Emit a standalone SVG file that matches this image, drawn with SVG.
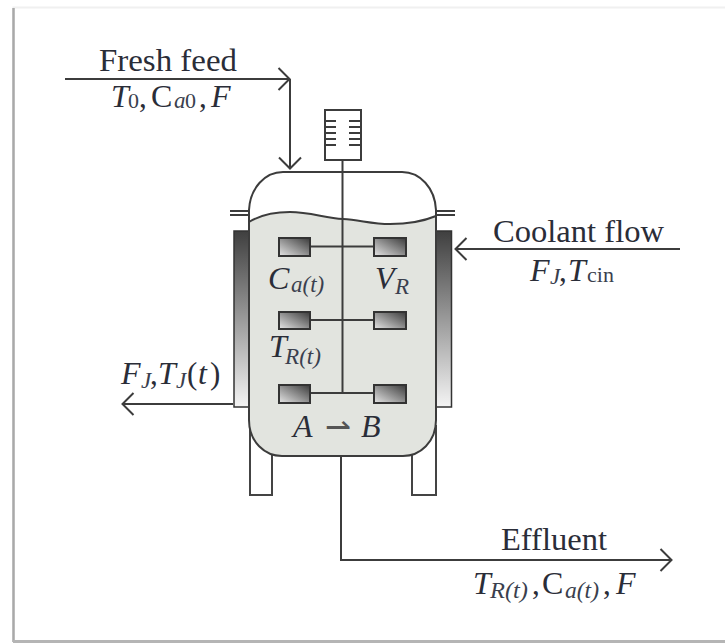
<svg xmlns="http://www.w3.org/2000/svg" width="725" height="643" viewBox="0 0 725 643">
<style>
text{font-family:"Liberation Serif","Times New Roman",serif;fill:#2a2d38}
.l{font-size:31px}
.i{font-size:32px;font-style:italic}
.c{font-size:32px}
.ci{font-size:32px;font-style:italic}
.s{font-size:23px;font-style:italic;fill:#3a3f4e}
.r{font-size:22px;fill:#3a3f4e}
.ln{fill:none;stroke:#3c3c3c;stroke-width:2}
.pad{fill:url(#pg);stroke:#333;stroke-width:2}
.head{fill:none;stroke:#3c3c3c;stroke-width:2}
</style>
<defs>
<linearGradient id="jg" x1="0" y1="0" x2="0" y2="1"><stop offset="0" stop-color="#3f3f3f"/><stop offset="1" stop-color="#f4f4f4"/></linearGradient>
<linearGradient id="pg" x1="0" y1="1" x2="1" y2="0"><stop offset="0" stop-color="#e6e6e6"/><stop offset="1" stop-color="#3a3a3a"/></linearGradient>
<marker id="a" markerUnits="userSpaceOnUse" markerWidth="16" markerHeight="26" refX="13.500" refY="13" orient="auto"><path d="M2 2L13 13L2 24" class="head"/></marker>
</defs>
<rect width="725" height="643" fill="#fff"/>
<g id="frame">
<path d="M13.500 642V7.500H725" fill="none" stroke="#f0f0f0" stroke-width="2"/>
<path d="M13.500 642V8" fill="none" stroke="#a9a9a9" stroke-width="2.500"/>
<path d="M13 641.500H725" fill="none" stroke="#b5b5b5" stroke-width="3"/>
</g>
<g id="legs">
<path d="M250 425V495H272V450" fill="#fff" stroke="#444" stroke-width="2"/>
<path d="M412 450V495H436V425" fill="#fff" stroke="#444" stroke-width="2"/>
</g>
<g id="jacket">
<rect x="234" y="231" width="16" height="176" fill="url(#jg)" stroke="#333" stroke-width="1.500"/>
<rect x="435" y="231" width="16.500" height="176" fill="url(#jg)" stroke="#333" stroke-width="1.500"/>
</g>
<g id="vessel">
<path d="M249 222C262 214 277 212 290 212C310 212 325 218 343 219C360 220 372 224 390 224C408 224 424 221 436 216V420C436 442 420 456 403 456H282C265 456 249 442 249 420Z" fill="#e2e4df" stroke="none"/>
<path d="M249 222C262 214 277 212 290 212C310 212 325 218 343 219C360 220 372 224 390 224C408 224 424 221 436 216" class="ln"/>
<path d="M249 210C250 188 265 172 283 172H402C420 172 435 188 436 210V420C436 442 420 456 403 456H282C265 456 249 442 249 420Z" class="ln"/>
<path d="M230 211H249M230 215H249M436 211H455M436 215H455" class="ln" stroke-width="1.500"/>
</g>
<g id="agitator">
<rect x="325" y="110" width="36" height="50" fill="#fff" stroke="#3c3c3c" stroke-width="2"/>
<path d="M325 121H336M325 127H336M325 133H336M325 139H336M325 145H336M349 121H361M349 127H361M349 133H361M349 139H361M349 145H361" class="ln" stroke-width="1.500"/>
<path d="M342.500 160V393M310 246.500H374M310 320H374M310 393H374" class="ln"/>
<rect class="pad" x="279" y="238" width="31" height="18"/>
<rect class="pad" x="374" y="238" width="32" height="18"/>
<rect class="pad" x="279" y="312" width="31" height="17"/>
<rect class="pad" x="374" y="312" width="32" height="17"/>
<rect class="pad" x="279" y="385" width="31" height="18"/>
<rect class="pad" x="374" y="385" width="32" height="18"/>
</g>
<g id="connectors">
<path d="M65 79H290" class="ln" marker-end="url(#a)"/>
<path d="M290 79V169" class="ln" marker-end="url(#a)"/>
<path d="M680 249H455" class="ln" marker-end="url(#a)"/>
<path d="M233 404H122" class="ln" marker-end="url(#a)"/>
<path d="M341 456V560H672" class="ln" marker-end="url(#a)"/>
</g>
<g id="labels">
<text class="l" x="99" y="71" textLength="138" lengthAdjust="spacingAndGlyphs">Fresh feed</text>
<text class="i" x="111" y="107">T</text><text class="r" x="128" y="108">0</text><text class="l" x="139" y="107">,</text><text class="c" x="151" y="107">C</text><text class="s" x="174" y="108">a</text><text class="r" x="185" y="108">0</text><text class="l" x="199" y="107">,</text><text class="i" x="211" y="107">F</text>
<text class="l" x="493" y="242" textLength="171" lengthAdjust="spacingAndGlyphs">Coolant flow</text>
<text class="i" x="530" y="281">F</text><text class="s" x="550" y="284">J</text><text class="l" x="559" y="281">,</text><text class="i" x="568" y="281">T</text><text class="r" x="587" y="282">cin</text>
<text class="l" x="501" y="550" textLength="106" lengthAdjust="spacingAndGlyphs">Effluent</text>
<text class="i" x="473" y="594">T</text><text class="s" x="490" y="598" textLength="38" lengthAdjust="spacingAndGlyphs">R(t)</text><text class="l" x="532" y="594">,</text><text class="c" x="542" y="594">C</text><text class="s" x="565" y="598" textLength="34" lengthAdjust="spacingAndGlyphs">a(t)</text><text class="l" x="603" y="594">,</text><text class="i" x="616" y="594">F</text>
<text class="ci" x="268" y="289">C</text><text class="s" x="291" y="292">a(t)</text>
<text class="i" x="375" y="289">V</text><text class="s" x="395" y="294">R</text>
<text class="i" x="269" y="357">T</text><text class="s" x="285" y="364" textLength="36" lengthAdjust="spacingAndGlyphs">R(t)</text>
<text class="i" x="121" y="384">F</text><text class="s" x="141" y="388">J</text><text class="l" x="150" y="384">,</text><text class="i" x="158" y="384">T</text><text class="s" x="176" y="388">J</text><text class="l" x="187" y="384">(</text><text class="i" x="198" y="384">t</text><text class="l" x="210" y="384">)</text>
<text class="i" x="293" y="437">A</text><text class="l" x="325" y="437" style="fill:#555">⇀</text><text class="i" x="361" y="437">B</text>
</g>
</svg>
